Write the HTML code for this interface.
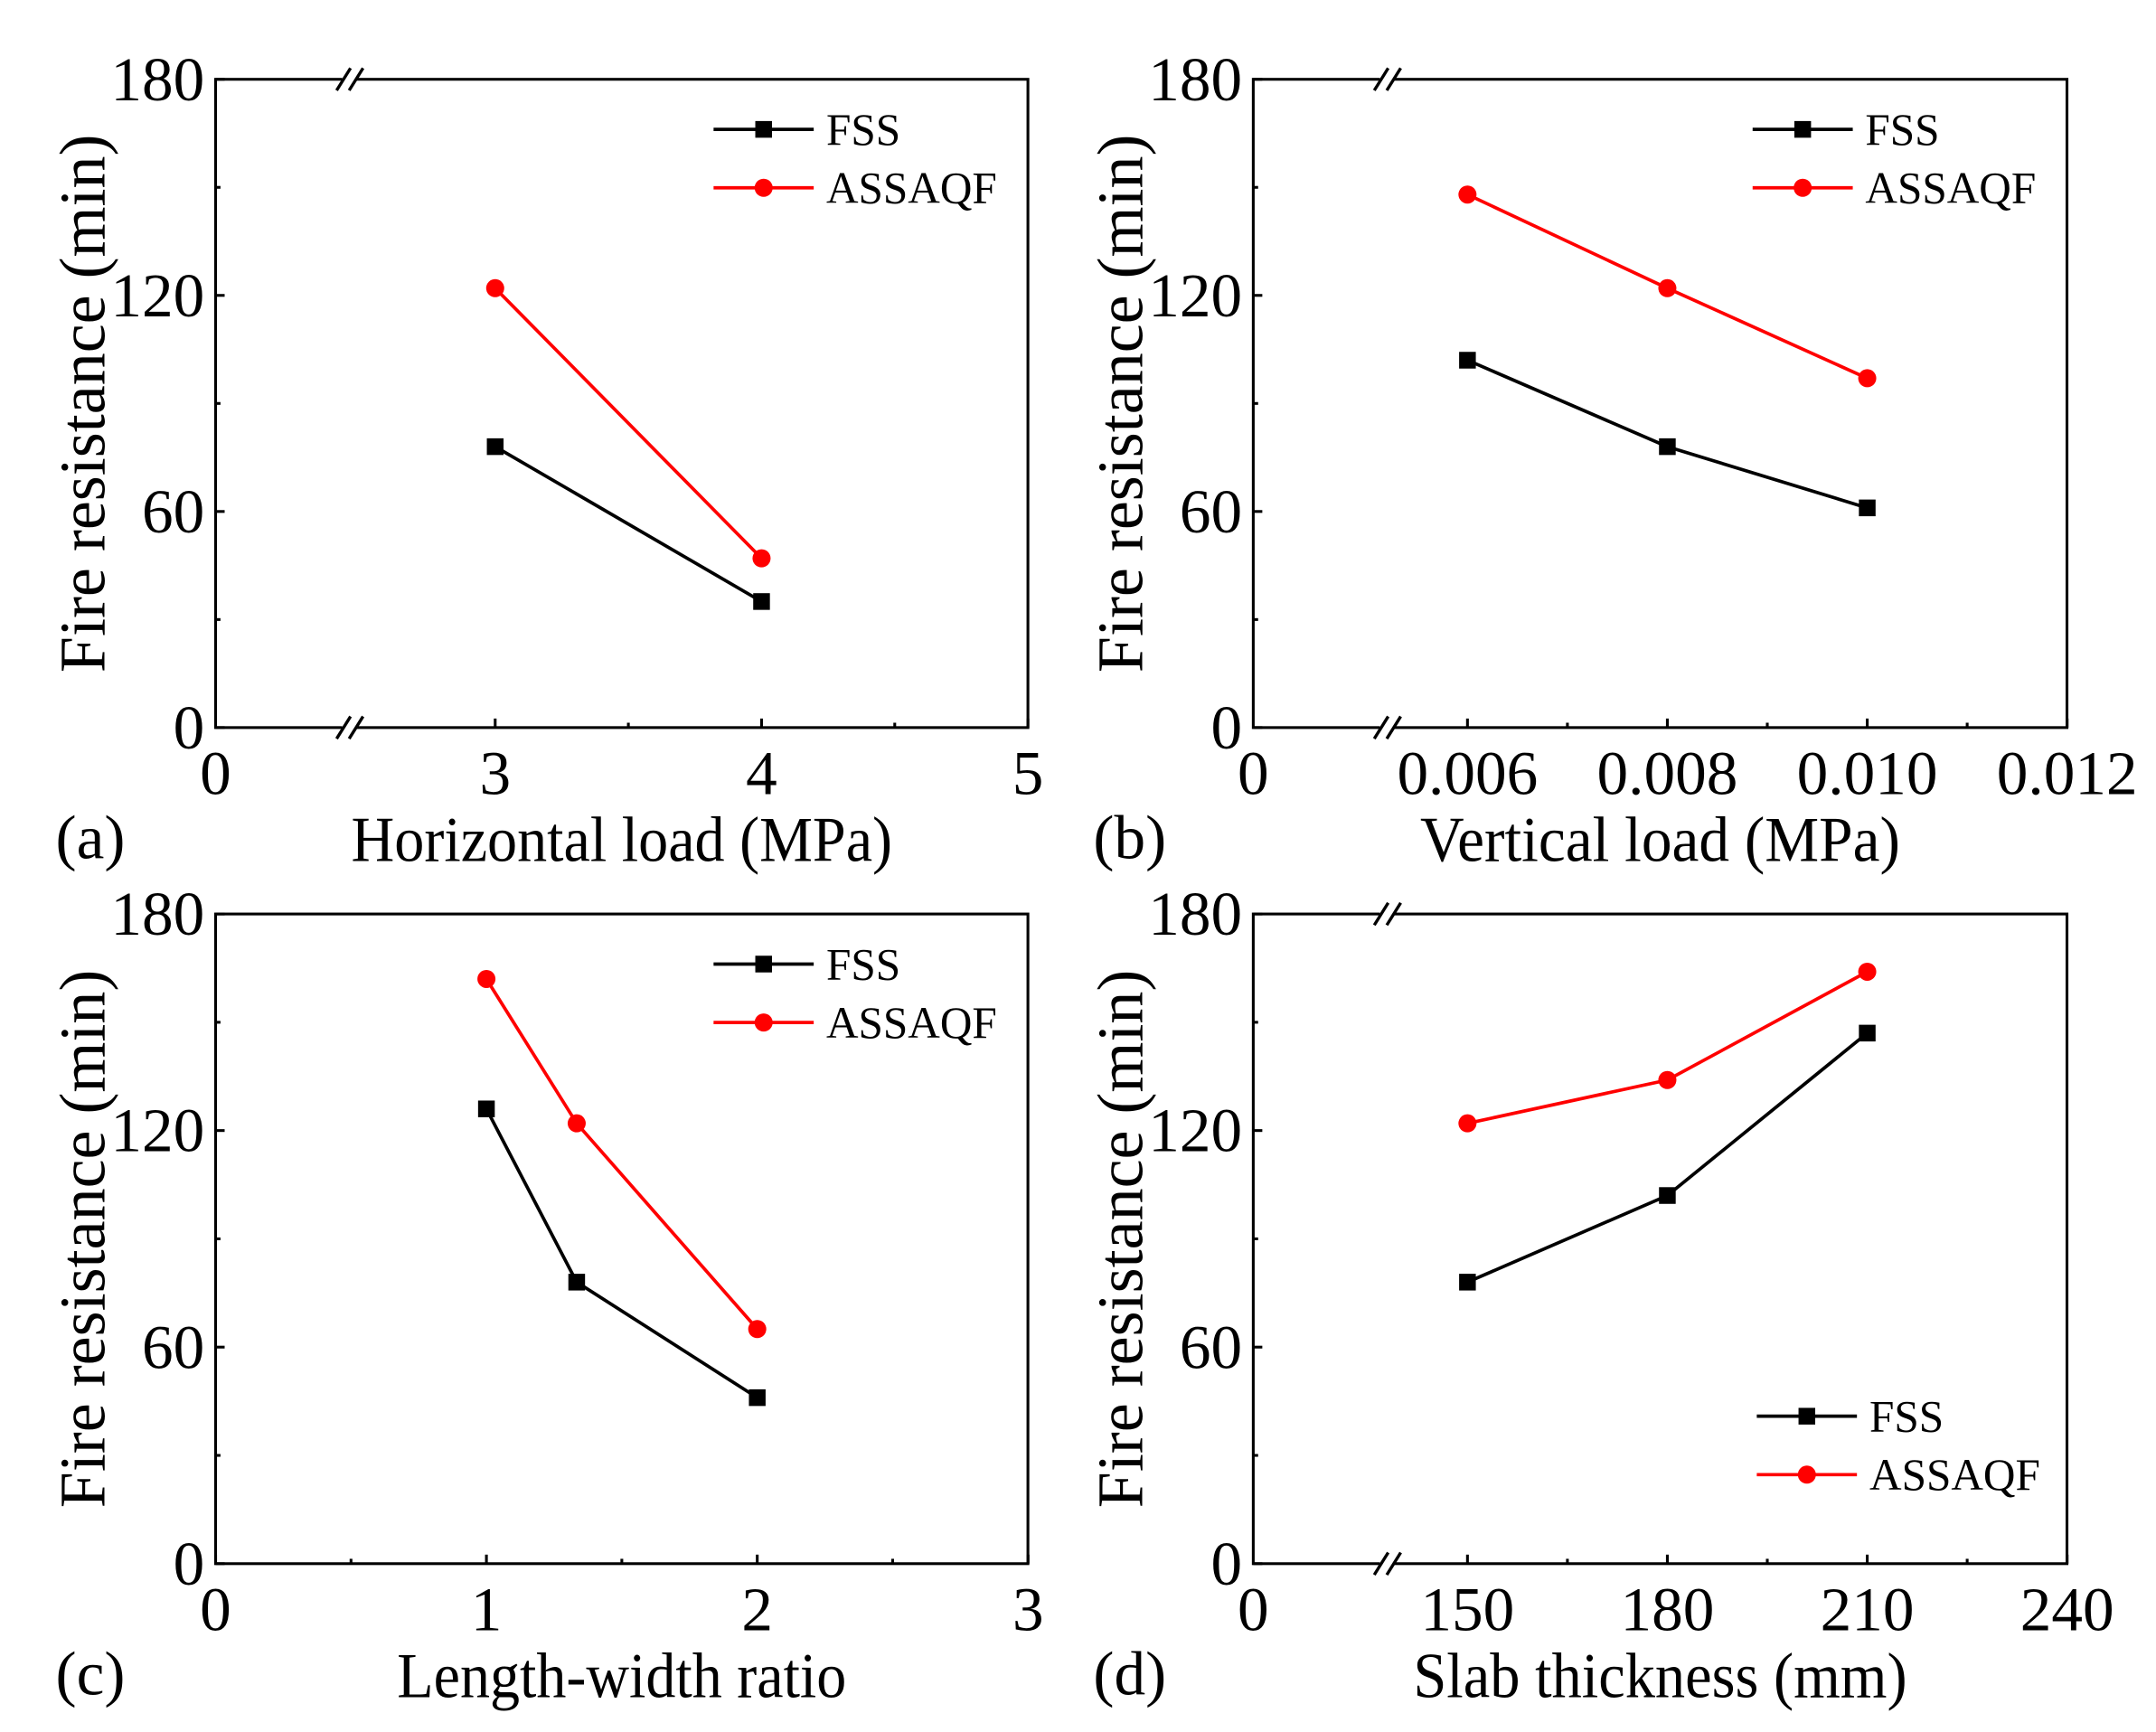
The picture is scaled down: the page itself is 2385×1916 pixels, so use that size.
<!DOCTYPE html>
<html><head><meta charset="utf-8"><style>
html,body{margin:0;padding:0;background:#fff;}
svg{display:block;}
text{font-family:"Liberation Serif","Times New Roman",serif;fill:#000;}
</style></head><body>
<svg id="chart" width="2385" height="1916" viewBox="0 0 1550 1245" preserveAspectRatio="none" xmlns="http://www.w3.org/2000/svg"></svg>
<script>
// Panel (a)
const aX = [3, 4];
const aFSS = [78, 35];
const aASS = [122, 47];
const aTicks = ["0", "3", "4", "5"];
// Panel (b)
const bX = [0.006, 0.008, 0.010];
const bFSS = [102, 78, 61];
const bASS = [148, 122, 97];
const bTicks = ["0", "0.006", "0.008", "0.010", "0.012"];
// Panel (c)
const cX = [1, 4/3, 2];
const cFSS = [126, 78, 46];
const cASS = [162, 122, 65];
const cTicks = ["0", "1", "2", "3"];
// Panel (d)
const dX = [150, 180, 210];
const dFSS = [78, 102, 147];
const dASS = [122, 134, 164];
const dTicks = ["0", "150", "180", "210", "240"];
const yTicks = [0, 60, 120, 180];

const svg = document.getElementById('chart');
const NS = 'http://www.w3.org/2000/svg';
function mk(tag, attrs, parent) {
  const e = document.createElementNS(NS, tag);
  for (const k in attrs) e.setAttribute(k, attrs[k]);
  (parent || svg).appendChild(e);
  return e;
}

function panel(cfg) {
  const g = mk('g', {});
  
  
  const L = cfg.L, R = cfg.R, T = cfg.T, B = cfg.B;
  const sy = v => B - (v / 180) * (B - T);
  const sx = cfg.sx;
  const frame = mk('rect', {x: L, y: T, width: R - L, height: B - T, fill: 'none', stroke: '#000', 'stroke-width': 2}, g);
  
  
  yTicks.forEach(v => {
    mk('line', {x1: L, x2: L + 6.5, y1: sy(v), y2: sy(v), stroke: '#000', 'stroke-width': 2}, g);
    const t = mk('text', {x: L - 8, y: sy(v) + 15, 'font-size': 45, 'text-anchor': 'end'}, g);
    t.textContent = v;
    
    
  });
  [30, 90, 150].forEach(v => mk('line', {x1: L, x2: L + 3.5, y1: sy(v), y2: sy(v), stroke: '#000', 'stroke-width': 2}, g));
  cfg.xt.forEach((v, i) => {
    const x = (i === 0 && cfg.brk) ? L : sx(v);
    if (!(i === 0 && cfg.brk)) mk('line', {x1: x, x2: x, y1: B, y2: B - 6.5, stroke: '#000', 'stroke-width': 2}, g);
    const t = mk('text', {x: x, y: B + 48, 'font-size': 45, 'text-anchor': 'middle'}, g);
    t.textContent = cfg.labels[i];
    
    
  });
  cfg.minor.forEach(v => mk('line', {x1: sx(v), x2: sx(v), y1: B, y2: B - 3.5, stroke: '#000', 'stroke-width': 2}, g));
  if (cfg.brk) {
    [T, B].forEach(yy => {
      mk('rect', {x: L + 91, y: yy - 3, width: 10, height: 6, fill: '#fff'}, g);
      mk('line', {x1: L + 87, y1: yy + 8, x2: L + 97, y2: yy - 8, stroke: '#000', 'stroke-width': 2.2}, g);
      mk('line', {x1: L + 96, y1: yy + 8, x2: L + 106, y2: yy - 8, stroke: '#000', 'stroke-width': 2.2}, g);
    });
  }
  const xt = mk('text', {x: (L + R) / 2, y: B + 96, 'font-size': 46, 'text-anchor': 'middle', textLength: cfg.xLen, lengthAdjust: 'spacingAndGlyphs'}, g);
  xt.textContent = cfg.xTitle;
  
  
  const yt = mk('text', {x: 0, y: 0, 'font-size': 47, 'text-anchor': 'middle', textLength: 387, lengthAdjust: 'spacingAndGlyphs', transform: `translate(${L - 80},${(T + B) / 2}) rotate(-90)`}, g);
  yt.textContent = 'Fire resistance (min)';
  
  
  const pl = mk('text', {x: L - 115, y: B + 94, 'font-size': 45}, g);
  pl.textContent = '(' + cfg.id + ')';
  
  
  const series = [
    {name: 'FSS', vals: cfg.fss, color: '#000', sq: true},
    {name: 'ASSAQF', vals: cfg.ass, color: '#ff0000', sq: false}
  ];
  series.forEach((s, si) => {
    const pts = cfg.x.map((xv, i) => sx(xv) + ',' + sy(s.vals[i])).join(' ');
    const pl2 = mk('polyline', {points: pts, fill: 'none', stroke: s.color, 'stroke-width': 2.4}, g);
    
    
    cfg.x.forEach((xv, i) => {
      let m;
      if (s.sq) m = mk('rect', {x: sx(xv) - 6, y: sy(s.vals[i]) - 6, width: 12, height: 12, fill: s.color}, g);
      else m = mk('circle', {cx: sx(xv), cy: sy(s.vals[i]), r: 6.5, fill: s.color}, g);
      
      
    });
    const ly = cfg.legY + si * 42, lx = cfg.legX;
    const lg = mk('g', {}, g);
    
    
    mk('line', {x1: lx, x2: lx + 72, y1: ly, y2: ly, stroke: s.color, 'stroke-width': 2.4}, lg);
    if (s.sq) mk('rect', {x: lx + 30, y: ly - 6, width: 12, height: 12, fill: s.color}, lg);
    else mk('circle', {cx: lx + 36, cy: ly, r: 6.5, fill: s.color}, lg);
    const lt = mk('text', {x: lx + 81, y: ly + 11, 'font-size': 32}, lg);
    lt.textContent = s.name;
  });
}

panel({id: 'a', L: 155, R: 739, T: 57, B: 523, brk: true,
  sx: v => 356 + (v - 3) * 191.5, xt: [0, 3, 4, 5], labels: aTicks, minor: [3.5, 4.5],
  x: aX, fss: aFSS, ass: aASS, xTitle: 'Horizontal load (MPa)', xLen: 389, legX: 513, legY: 93});
panel({id: 'b', L: 901, R: 1486, T: 57, B: 523, brk: true,
  sx: v => 1055 + (v - 0.006) / 0.002 * 143.7, xt: [0, 0.006, 0.008, 0.010, 0.012], labels: bTicks, minor: [0.007, 0.009, 0.011],
  x: bX, fss: bFSS, ass: bASS, xTitle: 'Vertical load (MPa)', xLen: 345, legX: 1260, legY: 93});
panel({id: 'c', L: 155, R: 739, T: 657, B: 1124, brk: false,
  sx: v => 155 + v * 194.7, xt: [0, 1, 2, 3], labels: cTicks, minor: [0.5, 1.5, 2.5],
  x: cX, fss: cFSS, ass: cASS, xTitle: 'Length-width ratio', xLen: 323, legX: 513, legY: 693});
panel({id: 'd', L: 901, R: 1486, T: 657, B: 1124, brk: true,
  sx: v => 1055 + (v - 150) / 30 * 143.7, xt: [0, 150, 180, 210, 240], labels: dTicks, minor: [165, 195, 225],
  x: dX, fss: dFSS, ass: dASS, xTitle: 'Slab thickness (mm)', xLen: 355, legX: 1263, legY: 1018});
</script>
</body></html>
